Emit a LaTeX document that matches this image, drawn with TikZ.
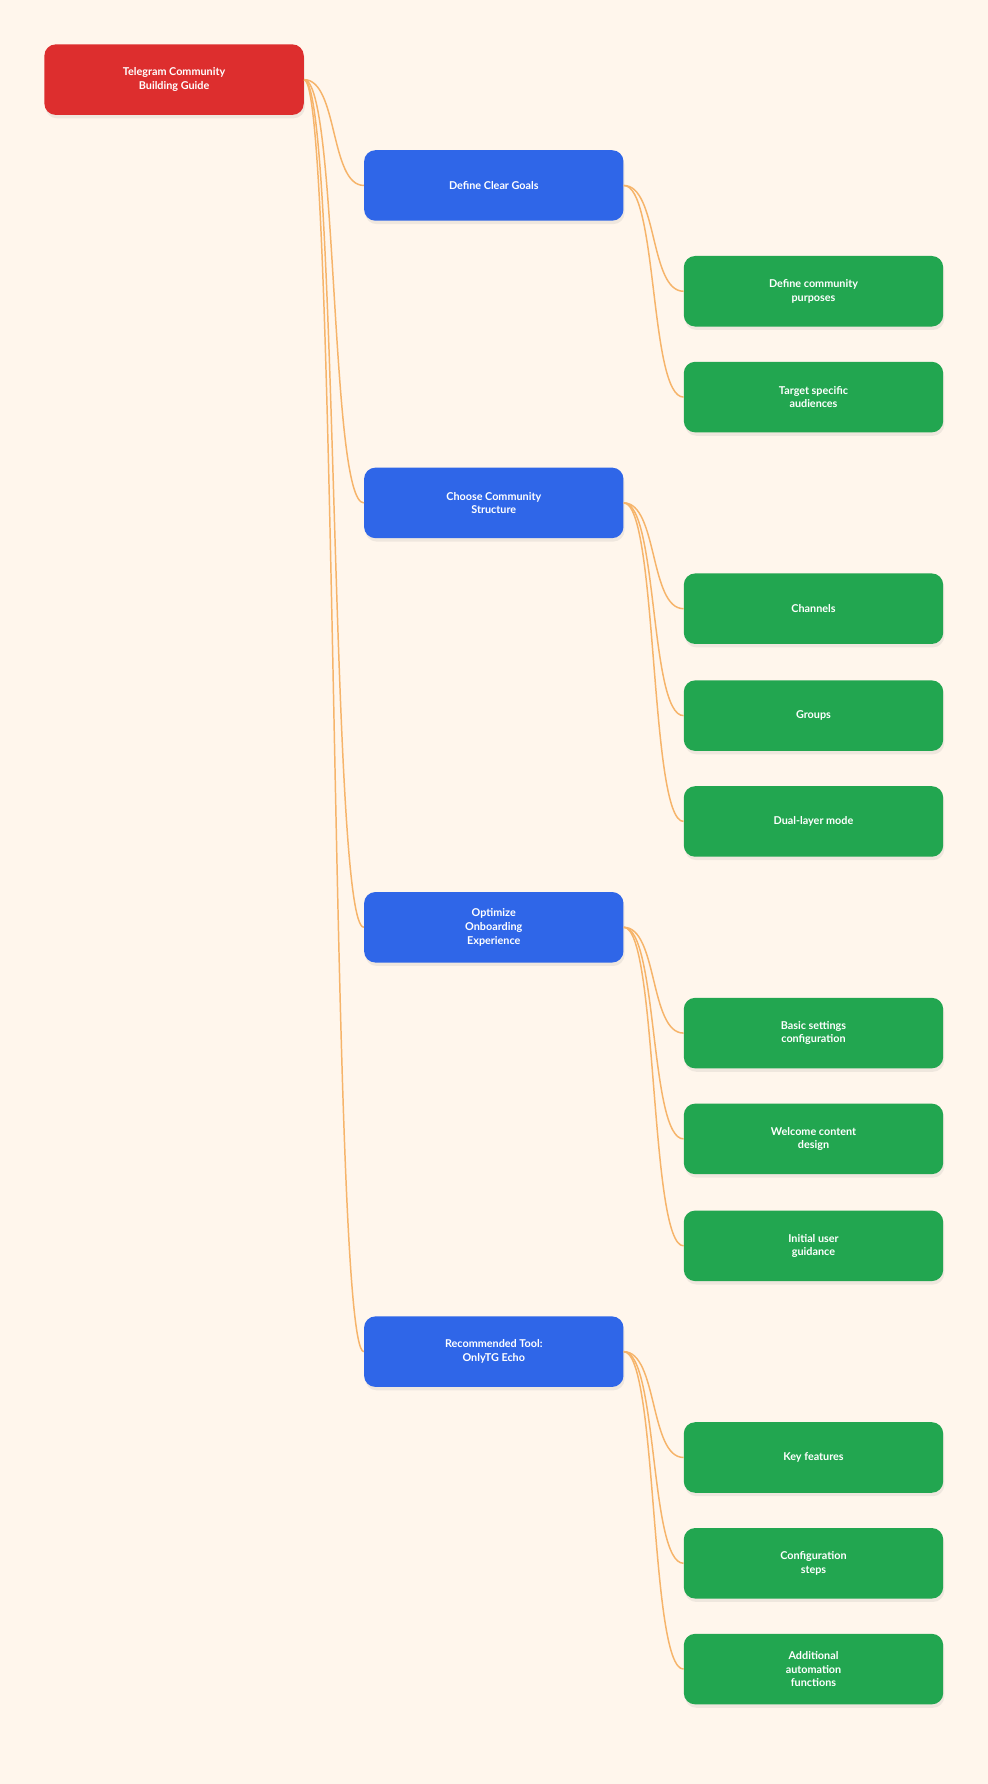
\documentclass[tikz,border=0pt]{standalone}
\usepackage{fontspec}
\setmainfont{Lato}
\usetikzlibrary{shadows}
\definecolor{bgc}{HTML}{FFF6EC}
\definecolor{rootc}{HTML}{DD2E2E}
\definecolor{topicc}{HTML}{2F66E8}
\definecolor{leafc}{HTML}{22A650}
\definecolor{linkc}{HTML}{F6B46A}
\tikzset{
  box/.style={rounded corners=10pt, minimum width=228pt, minimum height=62pt, text=white,
    font=\bfseries\fontsize{9.5}{12}\selectfont, align=center,
    drop shadow={opacity=0.12, shadow xshift=1pt, shadow yshift=-3pt}},
  root/.style={box, fill=rootc},
  topic/.style={box, fill=topicc},
  leaf/.style={box, fill=leafc},
  link/.style={draw=linkc, line width=1.3pt}
}
\newcommand\joinlink[2]{\draw[link] (#1.east) .. controls +(30,0) and +(-30,0) .. (#2.west);}
\begin{document}
\begin{tikzpicture}[x=1pt,y=-1pt]
\fill[bgc] (0,0) rectangle (868,1568);
\useasboundingbox (0,0) rectangle (868,1568);
\node[root] (r) at (153,70) {Telegram Community\\Building Guide};
%
\node[topic] (t1) at (434,163) {Define Clear Goals};
\node[topic] (t2) at (434,442) {Choose Community\\Structure};
\node[topic] (t3) at (434,815) {Optimize\\Onboarding\\Experience};
\node[topic] (t4) at (434,1188) {Recommended Tool:\\OnlyTG Echo};
%
\node[leaf] (l1) at (715,256) {Define community\\purposes};
\node[leaf] (l2) at (715,349) {Target specific\\audiences};
\node[leaf] (l3) at (715,535) {Channels};
\node[leaf] (l4) at (715,629) {Groups};
\node[leaf] (l5) at (715,722) {Dual-layer mode};
\node[leaf] (l6) at (715,908) {Basic settings\\configuration};
\node[leaf] (l7) at (715,1001) {Welcome content\\design};
\node[leaf] (l8) at (715,1095) {Initial user\\guidance};
\node[leaf] (l9) at (715,1281) {Key features};
\node[leaf] (l10) at (715,1374) {Configuration\\steps};
\node[leaf] (l11) at (715,1467) {Additional\\automation\\functions};
%
\joinlink{r}{t1}
\joinlink{r}{t2}
\joinlink{r}{t3}
\joinlink{r}{t4}
\joinlink{t1}{l1}
\joinlink{t1}{l2}
\joinlink{t2}{l3}
\joinlink{t2}{l4}
\joinlink{t2}{l5}
\joinlink{t3}{l6}
\joinlink{t3}{l7}
\joinlink{t3}{l8}
\joinlink{t4}{l9}
\joinlink{t4}{l10}
\joinlink{t4}{l11}
\end{tikzpicture}
\end{document}
